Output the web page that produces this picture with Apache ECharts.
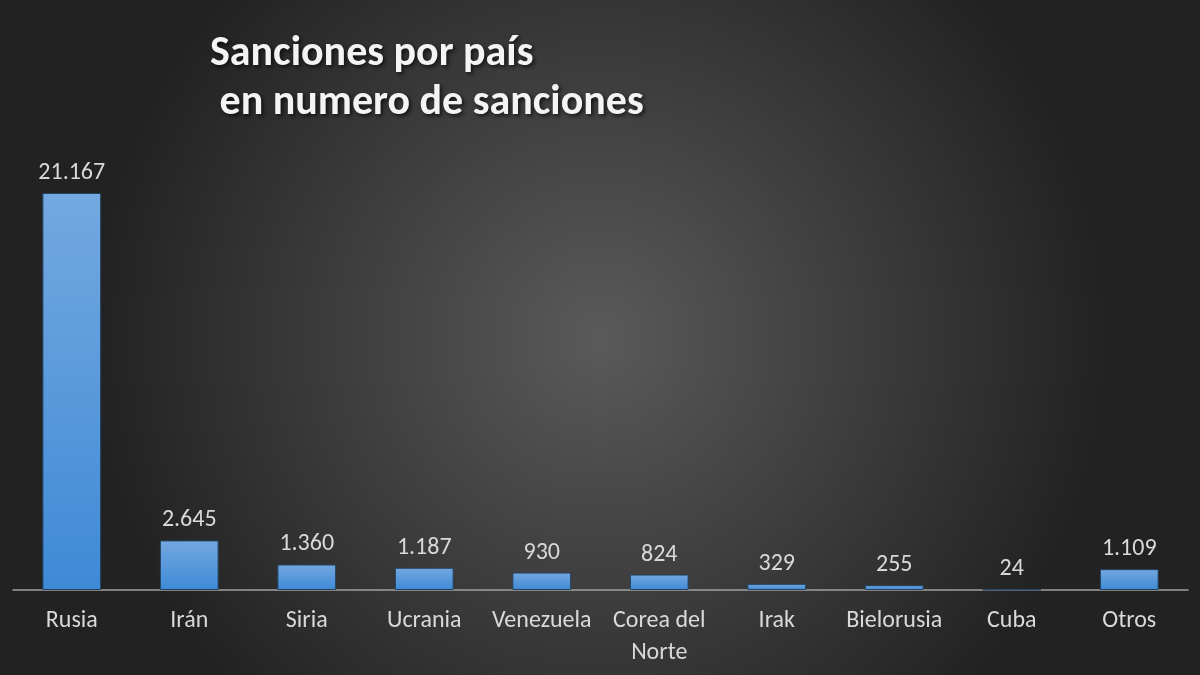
<!DOCTYPE html>
<html><head><meta charset="utf-8">
<script src="https://cdn.jsdelivr.net/npm/echarts@6/dist/echarts.min.js"></script>
<style>html,body{margin:0;padding:0;background:#333;}#c{width:1200px;height:675px;}</style>
</head><body><div id="c"></div>
<script>
const categories = ['Rusia','Irán','Siria','Ucrania','Venezuela','Corea del\nNorte','Irak','Bielorusia','Cuba','Otros'];
const values = [21167, 2645, 1360, 1187, 930, 824, 329, 255, 24, 1109];
const titleText = 'Sanciones por país\n en numero de sanciones';

function fmt(v){ return String(v).replace(/\B(?=(\d{3})+(?!\d))/g, '.'); }

const chart = echarts.init(document.getElementById('c'));
chart.setOption({
  backgroundColor: {type:'radial', x:0.5, y:0.5, r:0.75, colorStops:[
    {offset:0, color:'#5a5a5a'}, {offset:1, color:'#222222'}]},
  title: {
    text: titleText, left: 205, top: 25,
    textStyle: {color:'#f4f4f4', fontFamily:'Carlito, Lato, sans-serif', fontWeight:'bold', fontSize:42, lineHeight:49,
      textShadowColor:'rgba(0,0,0,0.7)', textShadowBlur:4, textShadowOffsetX:2, textShadowOffsetY:2}
  },
  grid: {left:13, right:12, top:193, bottom:85, containLabel:false},
  xAxis: {
    type:'category', data: categories,
    axisLine:{show:true, lineStyle:{color:'#a0a0a0', width:1.5}},
    axisTick:{show:false},
    axisLabel:{color:'#d9d9d9', fontSize:24, fontFamily:'Carlito, Lato, sans-serif', margin:15, lineHeight:32, interval:0}
  },
  yAxis: {type:'value', min:0, max:21167, show:false, splitLine:{show:false}},
  series: [{
    type:'bar', data: values, barWidth:'50%',
    itemStyle:{
      color:{type:'linear', x:0, y:0, x2:0, y2:1, colorStops:[{offset:0, color:'#74a8e0'},{offset:1, color:'#3e8ad6'}]},
      borderColor:'#24425f', borderWidth:1
    },
    label:{show:true, position:'top', distance:8, color:'#d9d9d9', fontSize:24, fontFamily:'Carlito, Lato, sans-serif',
      formatter: p => fmt(p.value)}
  }]
});
</script></body></html>
